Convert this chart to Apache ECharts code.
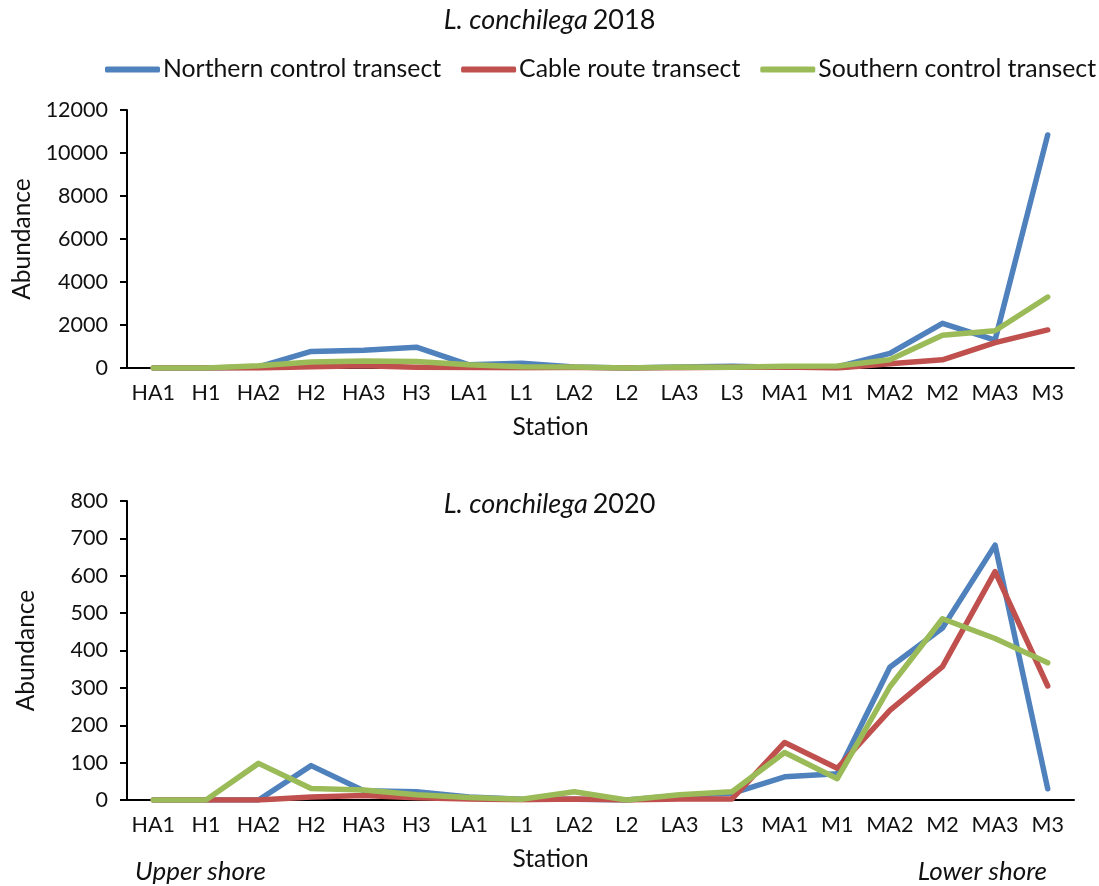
<!DOCTYPE html>
<html>
<head>
<meta charset="utf-8">
<script src="https://cdn.jsdelivr.net/npm/echarts@6/dist/echarts.min.js"></script>
<style>
html,body{margin:0;padding:0;background:#fff;}
#c{width:1099px;height:886px;}
</style>
</head>
<body>
<div id="c"></div>
<script>
const stations = ['HA1','H1','HA2','H2','HA3','H3','LA1','L1','LA2','L2','LA3','L3','MA1','M1','MA2','M2','MA3','M3'];
const seriesNames = ['Northern control transect','Cable route transect','Southern control transect'];
const north2018 = [0,0,50,770,830,970,150,220,50,0,50,80,30,50,680,2080,1300,10840];
const cable2018 = [0,0,0,60,100,40,20,10,20,0,10,30,50,0,200,380,1180,1770];
const south2018 = [0,0,100,280,320,300,150,60,50,0,50,30,80,90,380,1520,1730,3300];
const north2020 = [0,0,0,92,25,22,8,2,2,0,12,18,62,70,355,460,682,30];
const cable2020 = [0,0,0,8,12,6,3,1,3,0,3,3,154,85,240,357,611,305];
const south2020 = [0,0,98,31,27,14,7,2,22,0,14,22,127,57,303,485,432,367];
const ticks2018 = [0,2000,4000,6000,8000,10000,12000];
const ticks2020 = [0,100,200,300,400,500,600,700,800];

const colors = ['#4F81BD','#C0504D','#9BBB59'];
const FONT = 'Lato';
const TICK_SIZE = 21.5;
const NAME_SIZE = 24.5;
const LEGEND_SIZE = 24.8;
const TITLE_SIZE = 27;
const TXT = '#111';

const chart = echarts.init(document.getElementById('c'), null, {renderer:'canvas'});

function xAxis(gridIndex){
  return {
    type:'category', gridIndex, data:stations, boundaryGap:true,
    axisLine:{show:true, lineStyle:{color:'#000', width:2}},
    axisTick:{show:false},
    axisLabel:{color:TXT, fontFamily:FONT, fontSize:TICK_SIZE, margin:14, interval:0},
    name:'Station', nameLocation:'middle', nameGap:47,
    nameTextStyle:{color:TXT, fontFamily:FONT, fontSize:NAME_SIZE, padding:[0,100,0,0]}
  };
}
function yAxis(gridIndex, ticks){
  return {
    type:'value', gridIndex, min:ticks[0], max:ticks[ticks.length-1], interval:ticks[1]-ticks[0],
    axisLine:{show:true, lineStyle:{color:'#000', width:2}},
    axisTick:{show:true, inside:false, length:7, lineStyle:{color:'#000', width:2}},
    splitLine:{show:false},
    axisLabel:{color:TXT, fontFamily:FONT, fontSize:TICK_SIZE, margin:19, formatter:v => String(v)},
    name:'Abundance', nameLocation:'middle', nameGap:88,
    nameTextStyle:{color:TXT, fontFamily:FONT, fontSize:NAME_SIZE}
  };
}
function line(name, data, idx, axisIdx){
  return {
    name, type:'line', data, xAxisIndex:axisIdx, yAxisIndex:axisIdx,
    symbol:'none', smooth:false, silent:true,
    lineStyle:{color:colors[idx], width:5.5, cap:'round', join:'round'},
    itemStyle:{color:colors[idx]}, z: 2+idx
  };
}
function titleRich(){
  return {rich:{
    i:{fontFamily:FONT, fontStyle:'italic', fontWeight:'normal', fontSize:TITLE_SIZE, color:TXT},
    n:{fontFamily:FONT, fontWeight:'normal', fontSize:TITLE_SIZE, color:TXT}
  }};
}

const option = {
  backgroundColor:'#fff',
  animation:false,
  title:[
    {text:'{i|L. conchilega} {n|2018}', left:'center', top:2, textStyle:titleRich()},
    {text:'{i|L. conchilega} {n|2020}', left:'center', top:486, textStyle:titleRich()}
  ],
  legend:{
    data:seriesNames, left:100, top:52, width:1000, itemWidth:55, itemHeight:6, itemGap:20,
    icon:'roundRect',
    textStyle:{fontFamily:FONT, fontSize:LEGEND_SIZE, color:TXT, padding:[0,0,0,-2]}
  },
  grid:[
    {left:127, right:25, top:110, height:258},
    {left:127, right:25, top:501, height:299}
  ],
  xAxis:[xAxis(0), xAxis(1)],
  yAxis:[yAxis(0, ticks2018), yAxis(1, ticks2020)],
  graphic:[
    {type:'text', left:135, top:859, style:{text:'Upper shore', font:'italic 26px '+FONT, fill:TXT}},
    {type:'text', right:52, top:859, style:{text:'Lower shore', font:'italic 26px '+FONT, fill:TXT}}
  ],
  series:[
    line(seriesNames[0], north2018, 0, 0),
    line(seriesNames[1], cable2018, 1, 0),
    line(seriesNames[2], south2018, 2, 0),
    line(seriesNames[0], north2020, 0, 1),
    line(seriesNames[1], cable2020, 1, 1),
    line(seriesNames[2], south2020, 2, 1)
  ]
};
chart.setOption(option);
</script>
</body>
</html>
